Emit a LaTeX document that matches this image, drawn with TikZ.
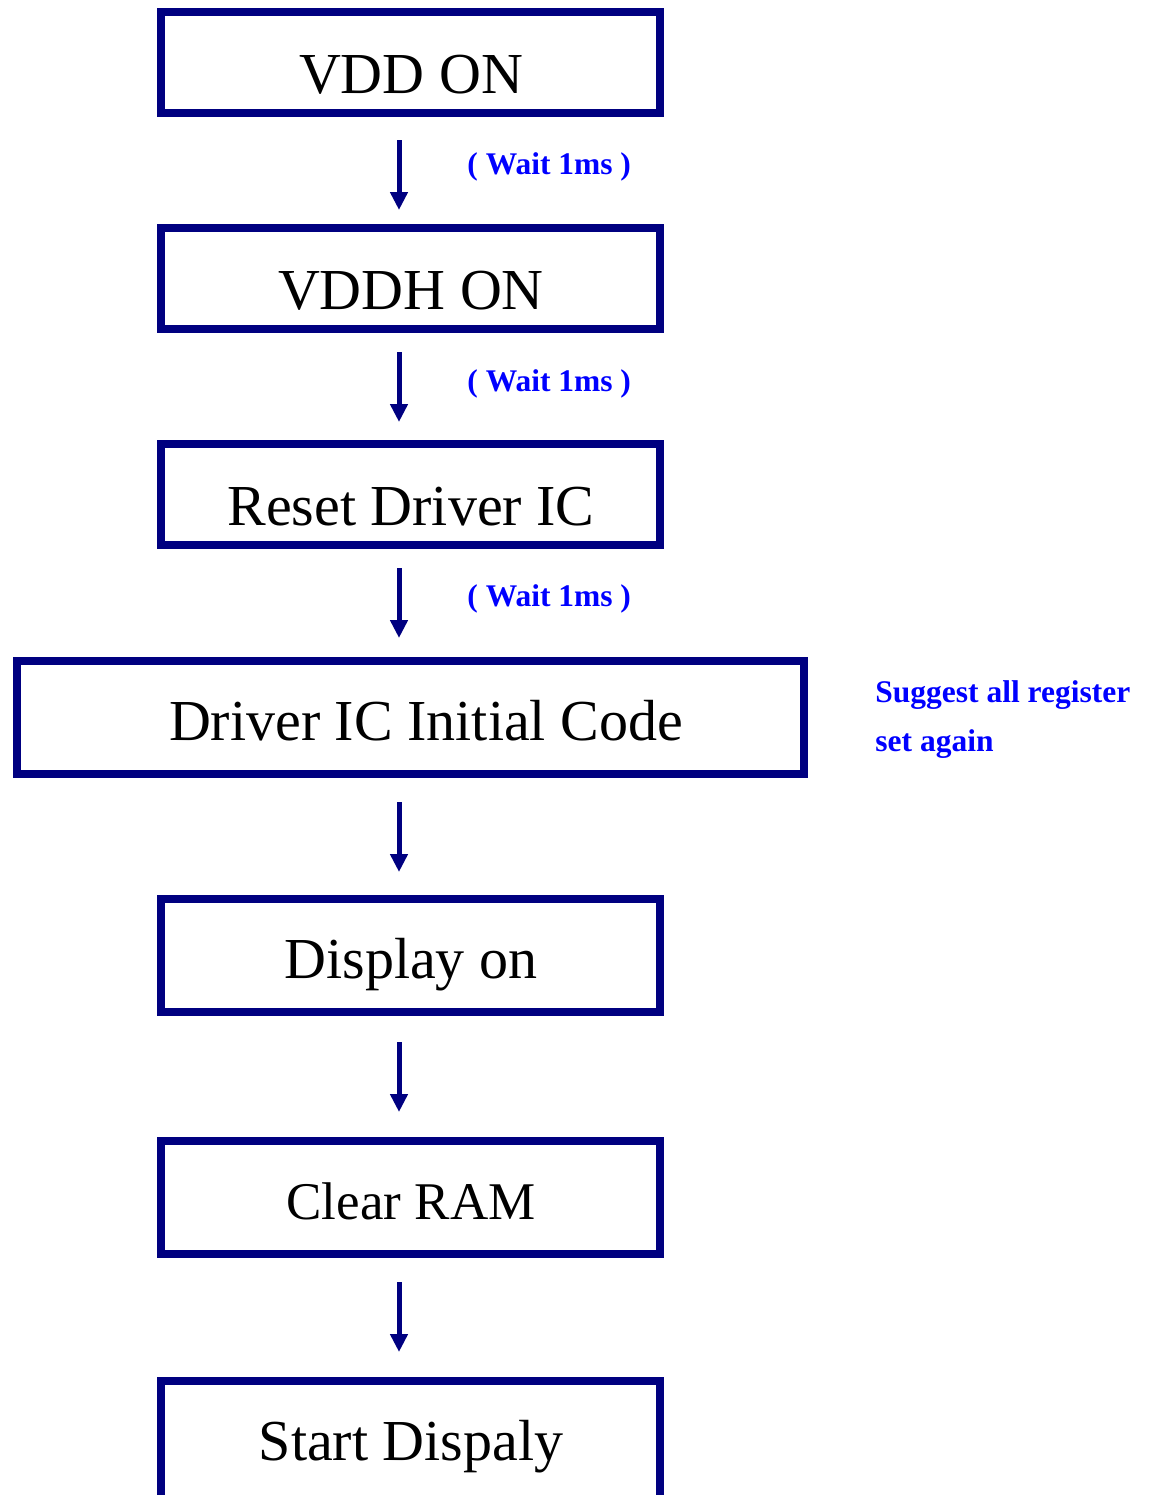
\documentclass[tikz,border=0pt]{standalone}
\usepackage{fontspec}
\setmainfont{Liberation Serif}
\usetikzlibrary{arrows.meta}
\definecolor{navy}{RGB}{0,0,128}
\definecolor{note}{RGB}{0,0,255}
\begin{document}
\begin{tikzpicture}[x=0.5pt,y=-0.5pt,
  box/.style={draw=navy, line width=4pt, rectangle, inner sep=0pt},
  boxtext/.style={anchor=base, inner sep=0pt, font=\fontsize{29}{32}\selectfont},
  waitnote/.style={anchor=base west, inner sep=0pt, text=note, font=\fontsize{15.75}{18}\selectfont\bfseries},
  arr/.style={draw=navy, line width=2.5pt, -{Triangle[width=8.5pt,length=9pt]}}]
\clip (0,0) rectangle (1152,1495);
\fill[white] (0,0) rectangle (1152,1495);
\coordinate (ax) at (399,0);
% boxes
\node[box, minimum width=249.5pt, minimum height=50.5pt] (b1) at (410.5,62.5) {};
\node[box, minimum width=249.5pt, minimum height=50.5pt] (b2) at (410.5,278.5) {};
\node[box, minimum width=249.5pt, minimum height=50.5pt] (b3) at (410.5,494.5) {};
\node[box, minimum width=393.5pt, minimum height=56.5pt] (b4) at (410.5,717.5) {};
\node[box, minimum width=249.5pt, minimum height=56.5pt] (b5) at (410.5,955.5) {};
\node[box, minimum width=249.5pt, minimum height=56.5pt] (b6) at (410.5,1197.5) {};
\node[box, minimum width=249.5pt, minimum height=60.5pt] (b7) at (410.5,1441.5) {};
% texts
\node[boxtext] (t1) at (411,93) {VDD ON};
\node[boxtext] (t2) at (411,309) {VDDH ON};
\node[boxtext] (t3) at (411,525) {Reset Driver IC};
\node[boxtext] (t4) at (426,740) {Driver IC Initial Code};
\node[boxtext] (t5) at (411,978) {Display on};
\node[boxtext, font=\fontsize{26.5}{30}\selectfont] (t6) at (411,1219) {Clear RAM};
\node[boxtext] (t7) at (411,1460) {Start Dispaly};
% notes
\node[waitnote] (w1) at (467,174) {( Wait 1ms )};
\node[waitnote] (w2) at (467,391) {( Wait 1ms )};
\node[waitnote] (w3) at (467,606) {( Wait 1ms )};
\node[waitnote] (s1) at (875,702) {Suggest all register};
\node[waitnote] (s2) at (875,751) {set again};
% arrows
\draw[arr, shorten <=11.5pt, shorten >=7pt] (b1.south -| ax) -- (b2.north -| ax);
\draw[arr, shorten <=9.5pt, shorten >=9pt] (b2.south -| ax) -- (b3.north -| ax);
\draw[arr, shorten <=9.5pt, shorten >=9.5pt] (b3.south -| ax) -- (b4.north -| ax);
\draw[arr, shorten <=12pt, shorten >=11.5pt] (b4.south -| ax) -- (b5.north -| ax);
\draw[arr, shorten <=13pt, shorten >=12.5pt] (b5.south -| ax) -- (b6.north -| ax);
\draw[arr, shorten <=12pt, shorten >=12.5pt] (b6.south -| ax) -- (b7.north -| ax);
\end{tikzpicture}
\end{document}
